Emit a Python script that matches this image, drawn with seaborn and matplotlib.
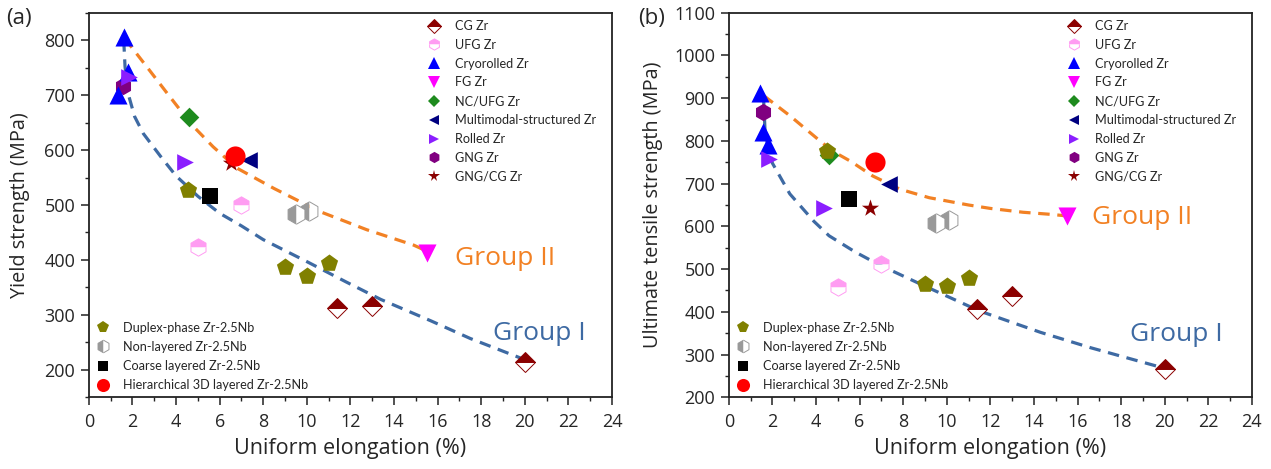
import numpy as np
import pandas as pd
import matplotlib
matplotlib.use('Agg')
import matplotlib.pyplot as plt
import seaborn as sns
from matplotlib.lines import Line2D
from matplotlib.ticker import MultipleLocator

sns.set_theme(style='ticks')
plt.rcParams['font.family'] = ['Open Sans', 'DejaVu Sans']

# ---------------- data: panel (a) yield strength ----------------
ys_cg_x = [11.4, 13.0, 20.0]
ys_cg_y = [312, 317, 215]
ys_ufg_x = [5.0, 7.0]
ys_ufg_y = [424, 500]
ys_cryo_x = [1.6, 1.8, 1.35]
ys_cryo_y = [805, 742, 700]
ys_fg_x = [15.5]
ys_fg_y = [413]
ys_ncufg_x = [4.6]
ys_ncufg_y = [660]
ys_multi_x = [7.35]
ys_multi_y = [581]
ys_rolled_x = [1.85, 4.4]
ys_rolled_y = [733, 578]
ys_gng_x = [1.55]
ys_gng_y = [716]
ys_gngcg_x = [6.5]
ys_gngcg_y = [577]
ys_duplex_x = [4.55, 9.0, 10.0, 11.0]
ys_duplex_y = [528, 387, 370, 395]
ys_nonlay_x = [9.5, 10.1]
ys_nonlay_y = [484, 489]
ys_coarse_x = [5.55]
ys_coarse_y = [516]
ys_hier_x = [6.7]
ys_hier_y = [589]

# trend curves
ys_g1_x = [1.6, 1.66, 1.8, 2.1, 2.5, 3.3, 4.0, 5.0, 6.0, 7.0, 8.0, 10.0, 11.8, 13.4, 15.7, 17.5, 19.9]
ys_g1_y = [800, 752, 703, 661, 630, 588, 553, 516, 485, 462, 437, 397, 360, 328, 289, 257, 220]
ys_g2_x = [1.65, 2.65, 3.6, 4.7, 5.7, 6.8, 8.5, 10.6, 12.75, 14.9, 15.4]
ys_g2_y = [803, 752, 703, 647, 606, 567, 530, 488, 455, 427, 418]

# ---------------- data: panel (b) ultimate tensile strength ----------------
uts_cg_x = [11.4, 13.0, 20.0]
uts_cg_y = [406, 437, 266]
uts_ufg_x = [5.0, 7.0]
uts_ufg_y = [457, 511]
uts_cryo_x = [1.45, 1.55, 1.8]
uts_cryo_y = [912, 822, 791]
uts_fg_x = [15.5]
uts_fg_y = [624]
uts_ncufg_x = [4.6]
uts_ncufg_y = [768]
uts_multi_x = [7.35]
uts_multi_y = [699]
uts_rolled_x = [1.85, 4.35]
uts_rolled_y = [758, 642]
uts_gng_x = [1.58]
uts_gng_y = [867]
uts_gngcg_x = [6.5]
uts_gngcg_y = [642]
uts_duplex_x = [4.5, 9.0, 10.0, 11.0]
uts_duplex_y = [776, 465, 460, 479]
uts_nonlay_x = [9.5, 10.1]
uts_nonlay_y = [608, 614]
uts_coarse_x = [5.5]
uts_coarse_y = [665]
uts_hier_x = [6.7]
uts_hier_y = [750]

uts_g1_x = [1.6, 1.67, 2.0, 2.8, 3.9, 4.6, 5.8, 6.9, 9.0, 11.5, 14.3, 16.6, 19.7]
uts_g1_y = [895, 816, 748, 676, 612, 578, 540, 510, 460, 402, 352, 316, 272]
uts_g2_x = [1.6, 2.8, 4.3, 4.8, 5.6, 6.6, 7.85, 9.2, 11.0, 12.0, 13.5, 14.8, 15.4]
uts_g2_y = [906, 859, 795, 775, 752, 718, 687, 667, 650, 642, 633, 628, 625]

top_labels = ['CG Zr', 'UFG Zr', 'Cryorolled Zr', 'FG Zr', 'NC/UFG Zr',
              'Multimodal-structured Zr', 'Rolled Zr', 'GNG Zr', 'GNG/CG Zr']
bottom_labels = ['Duplex-phase Zr-2.5Nb', 'Non-layered Zr-2.5Nb',
                 'Coarse layered Zr-2.5Nb', 'Hierarchical 3D layered Zr-2.5Nb']
x_ticks = [0, 2, 4, 6, 8, 10, 12, 14, 16, 18, 20, 22, 24]

# ---------------- styles ----------------
STY = {
    'CG Zr': dict(marker='D', ms=10.5, color='#8B0000', half='top', alt='white'),
    'UFG Zr': dict(marker='h', ms=12.5, color='#FF9CF2', half='top', alt='white'),
    'Cryorolled Zr': dict(marker='^', ms=13, color='#0000FF'),
    'FG Zr': dict(marker='v', ms=13, color='#FF00FF'),
    'NC/UFG Zr': dict(marker='D', ms=10, color='#1E8B1E'),
    'Multimodal-structured Zr': dict(marker='<', ms=12, color='#000080'),
    'Rolled Zr': dict(marker='>', ms=12, color='#8B1EFF'),
    'GNG Zr': dict(marker='h', ms=12.5, color='#800080'),
    'GNG/CG Zr': dict(marker='*', ms=13, color='#8B0000'),
    'Duplex-phase Zr-2.5Nb': dict(marker='p', ms=13, color='#808000'),
    'Non-layered Zr-2.5Nb': dict(marker='h', ms=14, color='#999999', half='left', alt='white'),
    'Coarse layered Zr-2.5Nb': dict(marker='s', ms=12, color='#000000'),
    'Hierarchical 3D layered Zr-2.5Nb': dict(marker='o', ms=14.5, color='#FF0000'),
}
G1_COLOR = '#3E6AA3'
G2_COLOR = '#F28124'
LEG_FONT = {'family': ['Lato', 'DejaVu Sans'], 'size': 9.1}

panel_a = {
    'CG Zr': (ys_cg_x, ys_cg_y), 'UFG Zr': (ys_ufg_x, ys_ufg_y),
    'Cryorolled Zr': (ys_cryo_x, ys_cryo_y), 'FG Zr': (ys_fg_x, ys_fg_y),
    'NC/UFG Zr': (ys_ncufg_x, ys_ncufg_y), 'Multimodal-structured Zr': (ys_multi_x, ys_multi_y),
    'Rolled Zr': (ys_rolled_x, ys_rolled_y), 'GNG Zr': (ys_gng_x, ys_gng_y),
    'GNG/CG Zr': (ys_gngcg_x, ys_gngcg_y), 'Duplex-phase Zr-2.5Nb': (ys_duplex_x, ys_duplex_y),
    'Non-layered Zr-2.5Nb': (ys_nonlay_x, ys_nonlay_y), 'Coarse layered Zr-2.5Nb': (ys_coarse_x, ys_coarse_y),
    'Hierarchical 3D layered Zr-2.5Nb': (ys_hier_x, ys_hier_y),
}
panel_b = {
    'CG Zr': (uts_cg_x, uts_cg_y), 'UFG Zr': (uts_ufg_x, uts_ufg_y),
    'Cryorolled Zr': (uts_cryo_x, uts_cryo_y), 'FG Zr': (uts_fg_x, uts_fg_y),
    'NC/UFG Zr': (uts_ncufg_x, uts_ncufg_y), 'Multimodal-structured Zr': (uts_multi_x, uts_multi_y),
    'Rolled Zr': (uts_rolled_x, uts_rolled_y), 'GNG Zr': (uts_gng_x, uts_gng_y),
    'GNG/CG Zr': (uts_gngcg_x, uts_gngcg_y), 'Duplex-phase Zr-2.5Nb': (uts_duplex_x, uts_duplex_y),
    'Non-layered Zr-2.5Nb': (uts_nonlay_x, uts_nonlay_y), 'Coarse layered Zr-2.5Nb': (uts_coarse_x, uts_coarse_y),
    'Hierarchical 3D layered Zr-2.5Nb': (uts_hier_x, uts_hier_y),
}

draw_order = ['GNG/CG Zr', 'CG Zr', 'UFG Zr', 'Non-layered Zr-2.5Nb', 'FG Zr', 'NC/UFG Zr',
              'Duplex-phase Zr-2.5Nb', 'Coarse layered Zr-2.5Nb', 'Multimodal-structured Zr',
              'GNG Zr', 'Cryorolled Zr', 'Rolled Zr', 'Hierarchical 3D layered Zr-2.5Nb']


def handle(name):
    s = STY[name]
    if 'half' in s:
        return Line2D([], [], ls='none', marker=s['marker'], ms=s['ms'], fillstyle=s['half'],
                      mfc=s['color'], mfcalt=s['alt'], mec=s['color'], mew=0.7)
    return Line2D([], [], ls='none', marker=s['marker'], ms=s['ms'], color=s['color'], mec=s['color'], mew=0)


def draw_panel(ax, pdata, g1x, g1y, g2x, g2y, ylim, yticks, ylabel, labelpad, g1pos, g2pos):
    sns.lineplot(x=g1x, y=g1y, ax=ax, color=G1_COLOR, lw=2.3, linestyle=(0, (3.6, 2.4)), zorder=2)
    sns.lineplot(x=g2x, y=g2y, ax=ax, color=G2_COLOR, lw=2.3, linestyle=(0, (3.6, 2.4)), zorder=2)
    for i, name in enumerate(draw_order):
        s = STY[name]
        xs, ys = pdata[name]
        if 'half' in s:
            ax.plot(xs, ys, ls='none', marker=s['marker'], ms=s['ms'], fillstyle=s['half'],
                    mfc=s['color'], mfcalt=s['alt'], mec=s['color'], mew=0.7, zorder=3 + i)
        else:
            sns.scatterplot(x=xs, y=ys, ax=ax, marker=s['marker'], s=s['ms'] ** 2, color=s['color'],
                            linewidth=0, zorder=3 + i, legend=False)
    ax.set_xlim(0, 24)
    ax.set_ylim(*ylim)
    ax.set_xticks(x_ticks)
    ax.set_yticks(yticks)
    ax.xaxis.set_minor_locator(MultipleLocator(1))
    ax.yaxis.set_minor_locator(MultipleLocator(50))
    ax.tick_params(which='major', length=5.5, width=1.1, labelsize=13, direction='out', pad=4.3, color='#222222')
    ax.tick_params(axis='x', which='major', pad=5.5)
    ax.tick_params(which='minor', length=3.1, width=1.0, direction='out', color='#222222')
    for sp in ax.spines.values():
        sp.set_visible(True)
        sp.set_linewidth(1.3)
        sp.set_color('#222222')
    ax.set_xlabel('Uniform elongation (%)', fontsize=15.5, labelpad=5)
    ax.set_ylabel(ylabel, fontsize=14.3, labelpad=labelpad)
    ax.text(g1pos[0], g1pos[1], 'Group I', color=G1_COLOR, fontsize=19, ha='left', va='center')
    ax.text(g2pos[0], g2pos[1], 'Group II', color=G2_COLOR, fontsize=19, ha='left', va='center')
    leg1 = ax.legend([handle(n) for n in top_labels], top_labels, loc='upper left',
                     bbox_to_anchor=(0.646, 0.981), frameon=False, borderpad=0, borderaxespad=0,
                     handlelength=1.2, handletextpad=1.0, labelspacing=0.54, markerscale=0.65,
                     prop=LEG_FONT)
    ax.add_artist(leg1)
    ax.legend([handle(n) for n in bottom_labels], bottom_labels, loc='lower left',
              bbox_to_anchor=(0.013, 0.016), frameon=False, borderpad=0, borderaxespad=0,
              handlelength=1.2, handletextpad=1.0, labelspacing=0.57, markerscale=0.65,
              prop=LEG_FONT)


fig = plt.figure(figsize=(12.71, 4.69), dpi=100)
ax1 = fig.add_axes([0.0699, 0.1529, 0.4116, 0.8200])
ax2 = fig.add_axes([0.5734, 0.1529, 0.4116, 0.8200])

draw_panel(ax1, panel_a, ys_g1_x, ys_g1_y, ys_g2_x, ys_g2_y, (150, 850),
           [200, 300, 400, 500, 600, 700, 800], 'Yield strength (MPa)', 10,
           (18.55, 266), (16.8, 402))
draw_panel(ax2, panel_b, uts_g1_x, uts_g1_y, uts_g2_x, uts_g2_y, (200, 1100),
           [200, 300, 400, 500, 600, 700, 800, 900, 1000, 1100], 'Ultimate tensile strength (MPa)', 8,
           (18.4, 346), (16.65, 620))

fig.text(0.005, 0.983, '(a)', fontsize=16, ha='left', va='top')
fig.text(0.502, 0.983, '(b)', fontsize=16, ha='left', va='top')

fig.savefig('out.png', dpi=100, facecolor='white')
